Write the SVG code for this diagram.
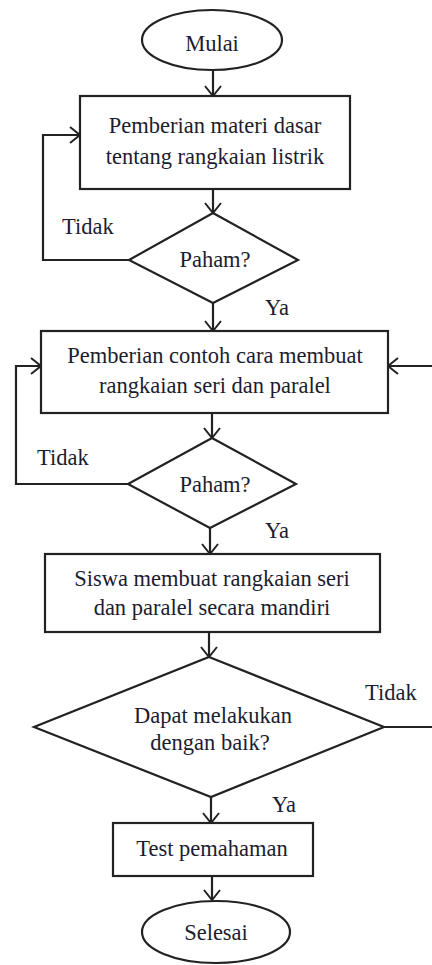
<svg xmlns="http://www.w3.org/2000/svg" width="432" height="965" viewBox="0 0 432 965">
<defs>
<marker id="arr" viewBox="0 0 12 18" refX="11" refY="9" markerWidth="12" markerHeight="18" markerUnits="userSpaceOnUse" orient="auto">
<path d="M1,1 L11,9 L1,17" fill="none" stroke="#222" stroke-width="2"/>
</marker>
<style>
.s{fill:#fff;stroke:#222;stroke-width:2.2}
.c{fill:none;stroke:#222;stroke-width:2.2}
text{font-family:"Liberation Serif","Times New Roman",serif;font-size:22.5px;fill:#1c1c30}
.m{text-anchor:middle}
</style>
</defs>
<rect width="432" height="965" fill="#fff"/>
<g id="connectors">
<path class="c" d="M213,70 V96" marker-end="url(#arr)"/>
<path class="c" d="M213,189 V213" marker-end="url(#arr)"/>
<path class="c" d="M213,303 V331" marker-end="url(#arr)"/>
<path class="c" d="M212,413 V438" marker-end="url(#arr)"/>
<path class="c" d="M210,528 V554" marker-end="url(#arr)"/>
<path class="c" d="M209,632 V657" marker-end="url(#arr)"/>
<path class="c" d="M211,797 V823" marker-end="url(#arr)"/>
<path class="c" d="M212,876 V900" marker-end="url(#arr)"/>
<path class="c" d="M129,260 H43 V135 H80" marker-end="url(#arr)"/>
<path class="c" d="M128,484 H16 V366 H41" marker-end="url(#arr)"/>
<path class="c" d="M384,727 H432"/>
<path class="c" d="M432,366 H388" marker-end="url(#arr)"/>
<text x="62" y="234">Tidak</text>
<text x="265" y="315">Ya</text>
<text x="37" y="465">Tidak</text>
<text x="265" y="538">Ya</text>
<text x="365" y="700">Tidak</text>
<text x="272" y="812">Ya</text>
</g>
<g id="mulai">
<ellipse class="s" cx="212" cy="40" rx="70" ry="30"/>
<text class="m" x="212" y="51">Mulai</text>
</g>
<g id="materi">
<rect class="s" x="80" y="96" width="270" height="93"/>
<text class="m" x="215" y="133">Pemberian materi dasar</text>
<text class="m" x="215" y="164">tentang rangkaian listrik</text>
</g>
<g id="paham1">
<polygon class="s" points="213,213 298,260 213,303 129,260"/>
<text class="m" x="215" y="267">Paham?</text>
</g>
<g id="contoh">
<rect class="s" x="41" y="331" width="347" height="82"/>
<text class="m" x="215" y="363">Pemberian contoh cara membuat</text>
<text class="m" x="215" y="393">rangkaian seri dan paralel</text>
</g>
<g id="paham2">
<polygon class="s" points="212,438 296,484 210,528 128,484"/>
<text class="m" x="215" y="492">Paham?</text>
</g>
<g id="siswa">
<rect class="s" x="45" y="554" width="335" height="78"/>
<text class="m" x="212" y="586">Siswa membuat rangkaian seri</text>
<text class="m" x="212" y="615">dan paralel secara mandiri</text>
</g>
<g id="dapat">
<polygon class="s" points="209,657 384,727 211,797 34,727"/>
<text class="m" x="213" y="723">Dapat melakukan</text>
<text class="m" x="210" y="750">dengan baik?</text>
</g>
<g id="test">
<rect class="s" x="113" y="823" width="200" height="53"/>
<text class="m" x="212" y="856">Test pemahaman</text>
</g>
<g id="selesai">
<ellipse class="s" cx="216" cy="932" rx="74" ry="31"/>
<text class="m" x="216" y="940">Selesai</text>
</g>
</svg>
